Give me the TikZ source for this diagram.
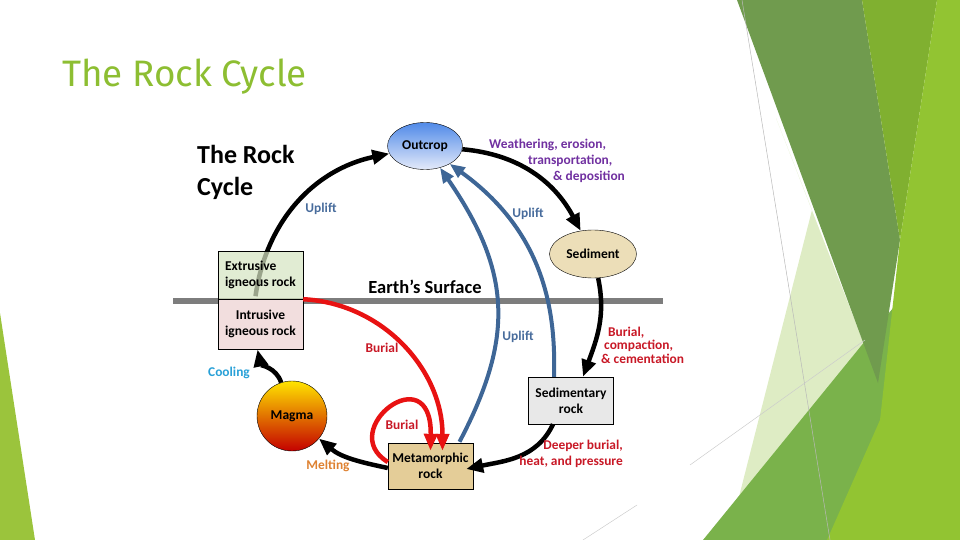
\documentclass[tikz,border=0pt]{standalone}
\usepackage{fontspec}
\setmainfont{Carlito}
\newfontfamily\slidefont{Fira Sans}
\usetikzlibrary{shapes,arrows.meta,positioning,backgrounds}

\definecolor{slidegreen}{RGB}{141,190,50}
\definecolor{upblue}{RGB}{62,102,150}
\definecolor{uptext}{RGB}{72,108,156}
\definecolor{buryred}{RGB}{232,18,18}
\definecolor{redtext}{RGB}{200,24,38}
\definecolor{weathpurple}{RGB}{112,48,160}
\definecolor{coolcyan}{RGB}{40,160,215}
\definecolor{meltorange}{RGB}{222,130,50}
\definecolor{surfgray}{RGB}{125,125,125}

\newcommand{\fsz}[2]{\fontsize{#1}{#2}\selectfont}

\begin{document}
\begin{tikzpicture}[x=1pt,y=1pt,node distance=0pt]
  \tikzstyle{rock}=[draw=black,thin,rectangle,minimum width=85,minimum height=48,
                    inner sep=1pt,align=center,font=\bfseries\fsz{13.5}{16}]
  \tikzstyle{oval}=[draw=black,thin,ellipse,inner sep=0pt,font=\bfseries\fsz{13.5}{16}]
  \tikzstyle{proc}=[inner sep=0pt,font=\bfseries\fsz{13.4}{16}]
  \tikzstyle{cyc}=[line width=4.5pt,-{Triangle[length=17pt,width=14pt]}]
  \tikzstyle{bury}=[cyc,draw=buryred,-{Triangle[length=17pt,width=13pt]}]
  \tikzstyle{lift}=[line width=4pt,draw=upblue,-{Triangle[length=15pt,width=12pt]}]

  \useasboundingbox (0,0) rectangle (960,-540);

  % rock stages
  \node[oval,top color={rgb,255:red,80;green,138;blue,232},bottom color={rgb,255:red,228;green,234;blue,250},
        minimum width=75,minimum height=47] (outcrop) at (425,-146) {Outcrop};
  \node[oval,fill={rgb,255:red,236;green,222;blue,184},minimum width=87,minimum height=48]
        (sediment) at (593,-254) {Sediment};
  \node[rock,fill={rgb,255:red,214;green,228;blue,194},fill opacity=0.72,text opacity=1,align=left]
        (extr) at (260.5,-275) {Extrusive\\igneous rock};
  \node[rock,fill={rgb,255:red,242;green,222;blue,222},minimum height=50] (intr) [below=of extr]
        {Intrusive\\igneous rock};
  \node[draw=black,thin,circle,minimum size=70,inner sep=0pt,font=\bfseries\fsz{13.5}{16},
        top color={rgb,255:red,255;green,228;blue,0},middle color={rgb,255:red,255;green,140;blue,0},
        bottom color={rgb,255:red,196;green,0;blue,0}] (magma) at (292,-416) {Magma};
  \node[rock,fill={rgb,255:red,228;green,205;blue,152},minimum height=46] (meta) at (430.5,-466)
        {Metamorphic\\rock};
  \node[rock,fill={rgb,255:red,232;green,232;blue,232},minimum height=47] (sedrock) at (571,-400.5)
        {Sedimentary\\rock};

  \begin{pgfonlayer}{background}
    % slide decoration
    \fill[fill={rgb,255:red,155;green,196;blue,60}] (0,-313) -- (35,-540) -- (0,-540) -- cycle;
    \fill[fill={rgb,255:red,222;green,236;blue,196}] (776,-118) -- (880,-385) -- (860,-540)
         -- (728,-540) -- (812,-210) -- cycle;
    \fill[fill={rgb,255:red,122;green,178;blue,75}] (703,-540) -- (870,-335) -- (960,-230)
         -- (960,-540) -- cycle;
    \fill[fill={rgb,255:red,112;green,155;blue,78}] (737,0) -- (862,0) -- (900,-240)
         -- (878,-383) -- cycle;
    \fill[fill={rgb,255:red,128;green,176;blue,48}] (862,0) -- (937,0) -- (900,-240) -- cycle;
    \fill[fill={rgb,255:red,146;green,196;blue,50}] (827,-540) -- (880,-420) -- (900,-240)
         -- (937,0) -- (960,0) -- (960,-540) -- cycle;
    \draw[gray!55,line width=0.5pt] (742,0) -- (830,-540);
    \draw[gray!40,line width=0.5pt] (690,-465) -- (865,-340);
    \draw[gray!40,line width=0.5pt] (583,-540) -- (637,-505);
    % earth's surface
    \draw[surfgray,line width=6pt] (173,-301) -- (663,-301);
    \draw[cyc] ([xshift=-5pt,yshift=3pt]extr.south) to[out=82,in=192] (outcrop);
  \end{pgfonlayer}

  % cycle
  \draw[lift] ([xshift=29pt,yshift=1pt]meta.north) .. controls (514,-338) and (512,-272) .. (outcrop);
  \draw[lift] ([xshift=-17pt]sedrock.north) .. controls (556,-310) and (544,-232) .. (outcrop);
  \draw[cyc] (outcrop) to[out=-5,in=118] (sediment);
  \draw[cyc] (sediment) to[out=-78,in=70] ([xshift=12pt]sedrock.north);
  \draw[cyc] ([xshift=-18pt]sedrock.south) to[out=-115,in=12] ([xshift=-7pt,yshift=-3pt]meta.east);
  \draw[cyc] ([yshift=-2pt]meta.west) to[out=168,in=-40] (magma);
  \draw[cyc] (magma) to[out=108,in=-78] ([xshift=-3pt]intr.south);
  \draw[bury] (intr.north east) to[out=-3,in=90] ([xshift=12pt,yshift=-8pt]meta.north);
  \draw[bury] ([yshift=4pt]meta.west) .. controls (335,-430) and (432,-355) .. ([yshift=-8pt]meta.north);

  % texts
  \node[anchor=base west,inner sep=0pt,text=slidegreen,font=\slidefont\fsz{36.8}{40}] (title)
        at (62,-87) {The Rock Cycle};
  \node[anchor=north west,inner sep=0pt,align=left,font=\bfseries\fsz{26}{32}] (head)
        at (197,-145) {The Rock\\Cycle};
  \node[inner sep=0pt,font=\bfseries\fsz{18.5}{20}] (surf) at (425,-287) {Earth’s Surface};
  \node[proc,text=uptext] (upl1) at (321,-209) {Uplift};
  \node[proc,text=uptext] (upl2) at (528,-214) {Uplift};
  \node[proc,text=uptext] (upl3) at (518,-337) {Uplift};
  \node[proc,text=weathpurple,anchor=north west,align=left] (weath) at (489,-139)
        {Weathering, erosion,\\\hspace*{39pt}transportation,\\\hspace*{64pt}\& deposition};
  \node[proc,text=redtext,anchor=west,align=left,font=\bfseries\fsz{13.4}{13.5}] (compact)
        at (601,-345) {\hspace*{7pt}Burial,\\\hspace*{3pt}compaction,\\\& cementation};
  \node[proc,text=redtext,anchor=north east,align=right] (deeper) at (623,-440)
        {Deeper burial,\\heat, and pressure};
  \node[proc,text=redtext] (bur1) at (382,-348) {Burial};
  \node[proc,text=redtext] (bur2) at (402,-425) {Burial};
  \node[proc,text=coolcyan] (cool) at (229,-373) {Cooling};
  \node[proc,text=meltorange] (melt) at (328,-466) {Melting};
\end{tikzpicture}
\end{document}
